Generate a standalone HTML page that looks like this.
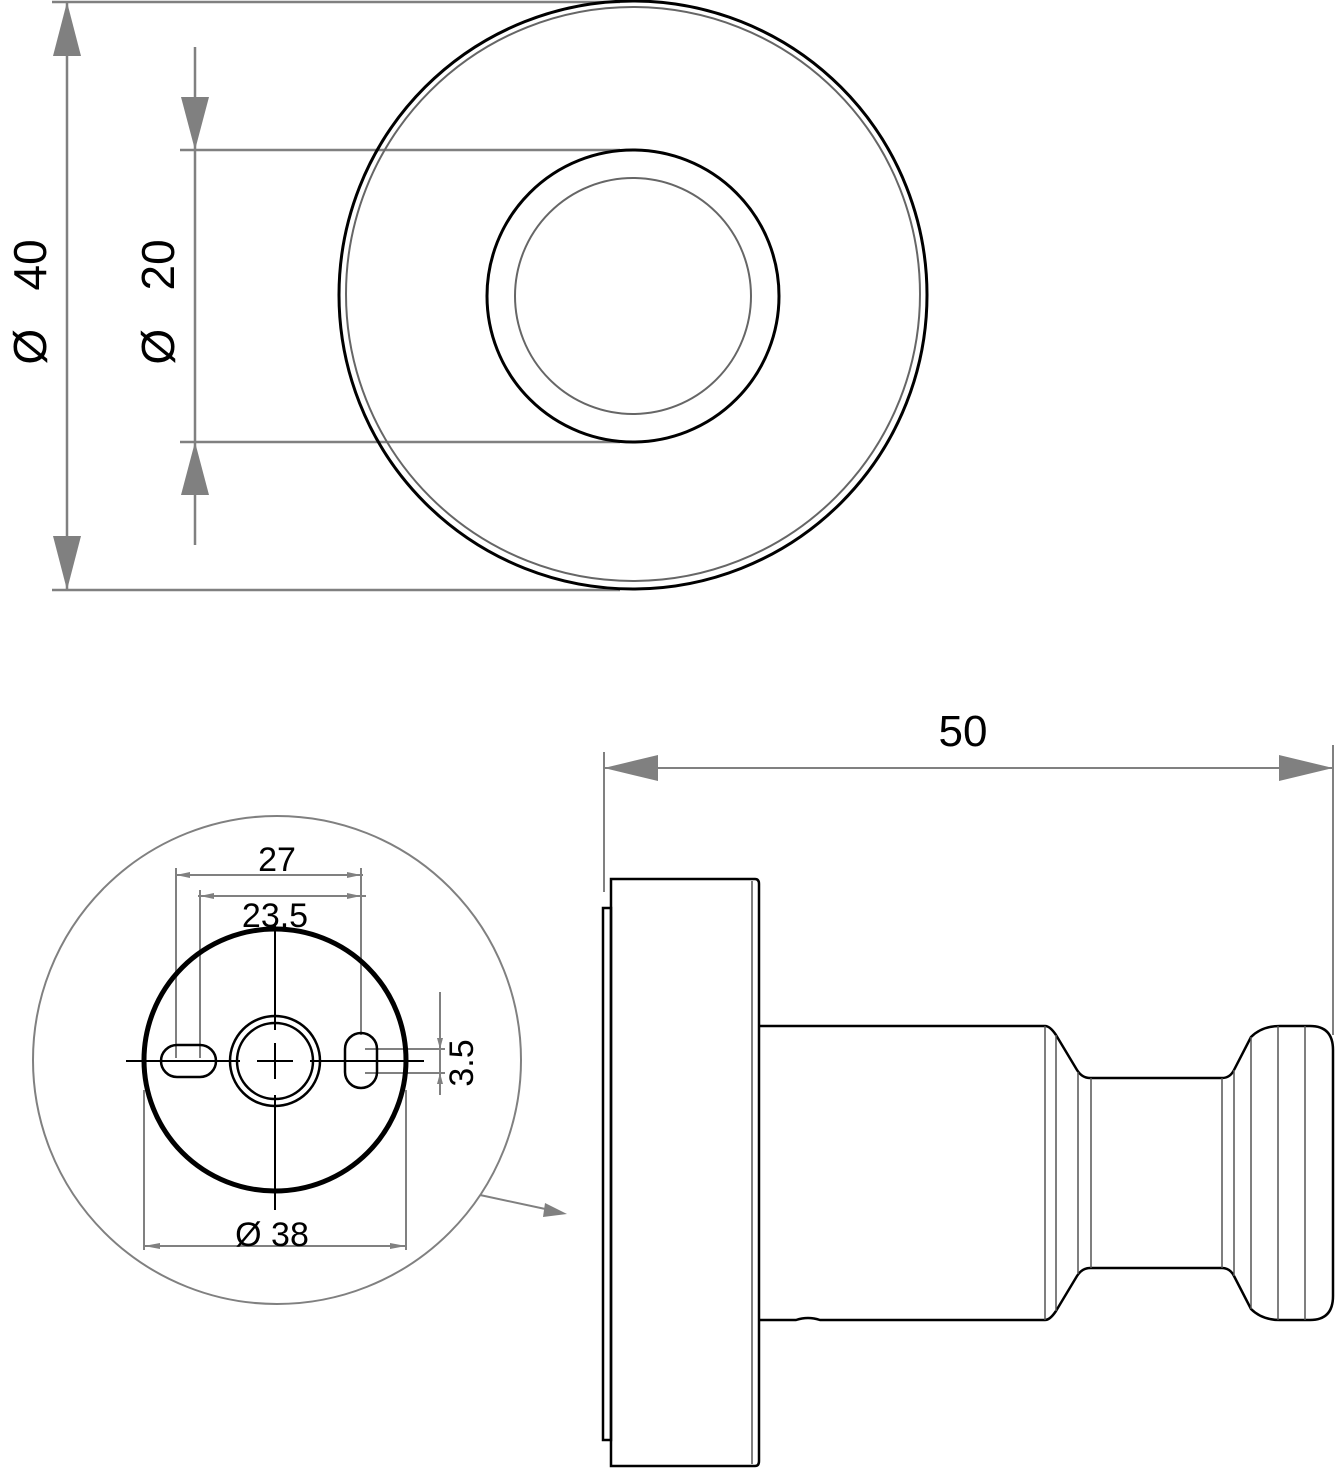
<!DOCTYPE html>
<html><head><meta charset="utf-8"><style>html,body{margin:0;padding:0;background:#fff}svg{display:block}</style></head><body>
<svg width="1335" height="1469" viewBox="0 0 1335 1469" xmlns="http://www.w3.org/2000/svg" font-family="Liberation Sans, sans-serif">
<g stroke="#808080" stroke-width="2.5" fill="none">
<line x1="52" y1="2" x2="620" y2="2"/>
<line x1="52" y1="590" x2="620" y2="590"/>
<line x1="67" y1="2" x2="67" y2="590"/>
<line x1="180" y1="150" x2="620" y2="150"/>
<line x1="180" y1="442" x2="620" y2="442"/>
<line x1="195" y1="47" x2="195" y2="545"/>
</g>
<g fill="#808080">
<polygon points="67,2 53,56 81,56"/>
<polygon points="67,590 53,536 81,536"/>
<polygon points="195,150 181,97 209,97"/>
<polygon points="195,442 181,495 209,495"/>
</g>
<text transform="translate(46,302) rotate(-90)" font-size="46" text-anchor="middle">Ø&#160;&#160;&#160;40</text>
<text transform="translate(174,302) rotate(-90)" font-size="46" text-anchor="middle">Ø&#160;&#160;&#160;20</text>
<circle cx="633" cy="295" r="294" fill="none" stroke="#000" stroke-width="3"/>
<circle cx="633" cy="294" r="287" fill="none" stroke="#666" stroke-width="2"/>
<circle cx="633" cy="296" r="146" fill="none" stroke="#000" stroke-width="3"/>
<circle cx="633" cy="296" r="118" fill="none" stroke="#666" stroke-width="2"/>

<circle cx="277" cy="1060" r="244" fill="none" stroke="#808080" stroke-width="2"/>
<g stroke="#808080" stroke-width="2" fill="none">
<line x1="176" y1="868" x2="176" y2="1058"/>
<line x1="200" y1="890" x2="200" y2="1058"/>
<line x1="361" y1="868" x2="361" y2="1035"/>
<line x1="176" y1="875" x2="363" y2="875"/>
<line x1="198" y1="896" x2="366" y2="896"/>
<line x1="144" y1="1090" x2="144" y2="1250"/>
<line x1="406" y1="1090" x2="406" y2="1250"/>
<line x1="144" y1="1246" x2="406" y2="1246"/>
<line x1="440" y1="992" x2="440" y2="1095"/>
<line x1="365" y1="1049" x2="445" y2="1049"/>
<line x1="365" y1="1073" x2="445" y2="1073"/>
<line x1="480" y1="1195" x2="550" y2="1210"/>
</g>
<g fill="#808080">
<polygon points="176,875 190,872 190,878"/><polygon points="361,875 347,872 347,878"/>
<polygon points="200,896 214,893 214,899"/><polygon points="361,896 347,893 347,899"/>
<polygon points="144,1246 160,1243 160,1249"/><polygon points="406,1246 390,1243 390,1249"/>
<polygon points="440,1049 437,1038 443,1038"/><polygon points="440,1073 437,1084 443,1084"/>
<polygon points="567,1214 545,1203 543,1217"/>
</g>
<circle cx="275" cy="1060" r="131" fill="none" stroke="#000" stroke-width="5"/>
<circle cx="275" cy="1061" r="45" fill="none" stroke="#000" stroke-width="2.5"/>
<circle cx="275" cy="1061" r="38" fill="none" stroke="#000" stroke-width="2.5"/>
<g stroke="#000" stroke-width="2">
<line x1="126" y1="1061" x2="240" y2="1061"/>
<line x1="310" y1="1061" x2="424" y2="1061"/>
<line x1="257" y1="1061" x2="293" y2="1061"/>
<line x1="275" y1="925" x2="275" y2="1030"/>
<line x1="275" y1="1043" x2="275" y2="1079"/>
<line x1="275" y1="1095" x2="275" y2="1210"/>
</g>
<rect x="161" y="1045" width="55" height="32" rx="16" fill="none" stroke="#000" stroke-width="2.5"/>
<rect x="345" y="1033" width="32" height="55" rx="16" fill="none" stroke="#000" stroke-width="2.5"/>
<text x="277" y="871" font-size="34" text-anchor="middle">27</text>
<text x="275" y="927" font-size="34" text-anchor="middle">23.5</text>
<text x="272" y="1246" font-size="34" text-anchor="middle">Ø 38</text>
<text transform="translate(473,1063) rotate(-90)" font-size="34" text-anchor="middle">3.5</text>

<g stroke="#808080" stroke-width="2" fill="none">
<line x1="604" y1="752" x2="604" y2="892"/>
<line x1="1333" y1="745" x2="1333" y2="1035"/>
<line x1="604" y1="768" x2="1333" y2="768"/>
</g>
<g fill="#808080">
<polygon points="604,768 658,755 658,781"/>
<polygon points="1333,768 1279,755 1279,781"/>
</g>
<text x="963" y="746" font-size="44" text-anchor="middle">50</text>
<g stroke="#000" stroke-width="2.5" fill="none">
<rect x="603" y="908" width="8" height="532"/>
<path d="M611,879 H755 Q759,879 759,884 V1461 Q759,1466 755,1466 H611 Z"/>
<path d="M759,1026 H1045 Q1050,1026 1056,1035 L1077,1070 Q1082,1078 1090,1078 H1222 Q1230,1078 1234,1070 L1251,1037 Q1262,1026 1280,1026 H1310 Q1333,1026 1333,1050 V1296 Q1333,1320 1310,1320 H1280 Q1262,1320 1251,1309 L1234,1276 Q1230,1268 1222,1268 H1090 Q1082,1268 1077,1276 L1056,1311 Q1050,1320 1045,1320 H820 Q808,1316 796,1320 H759"/>
</g>
<g stroke="#555" stroke-width="1.5">
<line x1="752" y1="881" x2="752" y2="1464"/>
<line x1="1045" y1="1026" x2="1045" y2="1320"/>
<line x1="1056" y1="1035" x2="1056" y2="1311"/>
<line x1="1078" y1="1072" x2="1078" y2="1274"/>
<line x1="1091" y1="1078" x2="1091" y2="1268"/>
<line x1="1222" y1="1078" x2="1222" y2="1268"/>
<line x1="1234" y1="1070" x2="1234" y2="1276"/>
<line x1="1251" y1="1037" x2="1251" y2="1309"/>
<line x1="1278" y1="1026" x2="1278" y2="1320"/>
<line x1="1305" y1="1026" x2="1305" y2="1320"/>
</g>
</svg>
</body></html>
